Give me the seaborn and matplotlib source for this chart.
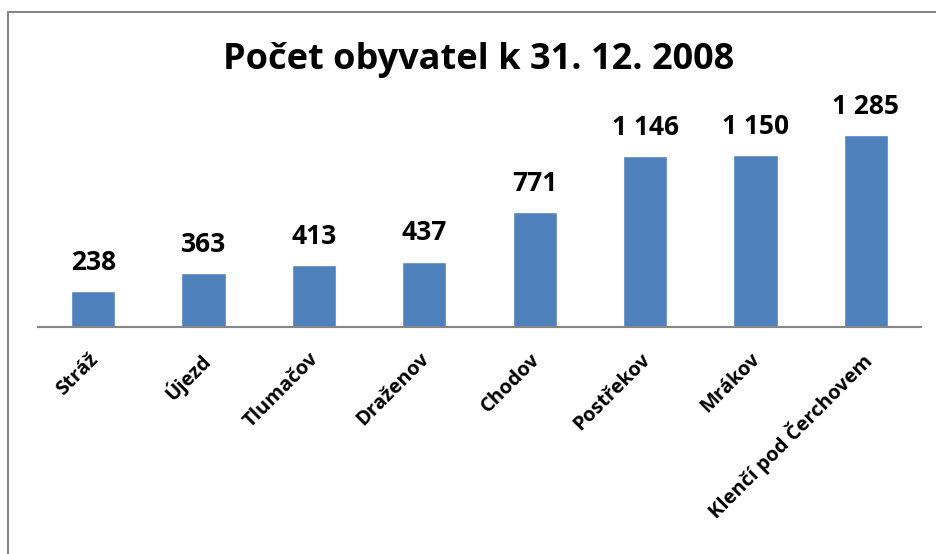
import matplotlib
matplotlib.use("Agg")
import matplotlib.pyplot as plt
import matplotlib.transforms as mtransforms
import seaborn as sns
import pandas as pd
from matplotlib.lines import Line2D

categories = ["Stráž", "Újezd", "Tlumačov", "Draženov", "Chodov", "Postřekov", "Mrákov", "Klenčí pod Čerchovem"]
values = [238, 363, 413, 437, 771, 1146, 1150, 1285]
title = "Počet obyvatel k 31. 12. 2008"

sns.set_theme(style="white")
plt.rcParams['font.family'] = ['Open Sans', 'DejaVu Sans']

df = pd.DataFrame({"obec": categories, "pocet": values})

fig = plt.figure(figsize=(9.37, 5.54), dpi=100)
ax = fig.add_axes([38/937, 1-327/554, (921-38)/937, (327-118)/554])
sns.barplot(data=df, x="obec", y="pocet", color="#4F81BD", width=0.4, ax=ax, saturation=1)
ax.set_ylim(0, 1400)
ax.set_xlim(-0.5, len(categories)-0.5)
ax.set_xlabel("")
ax.set_ylabel("")
ax.set_yticks([])
for s in ["top", "right", "left"]:
    ax.spines[s].set_visible(False)
ax.spines["bottom"].set_color("#868686")
ax.spines["bottom"].set_linewidth(1.5)
ax.tick_params(axis="x", length=0, pad=16)
ax.set_xticks(range(len(categories)))
ax.set_xticklabels(categories, rotation=45, ha="right", rotation_mode="anchor",
                   fontsize=14.5, fontweight="bold", color="black")
shift = mtransforms.ScaledTranslation(-5/100, 0, fig.dpi_scale_trans)
for lbl in ax.get_xticklabels():
    lbl.set_transform(lbl.get_transform() + shift)

for i, v in enumerate(values):
    lab = f"{v:,}".replace(",", " ")
    ax.annotate(lab, (i, v), xytext=(0, 11), textcoords="offset points",
                ha="center", va="bottom", fontsize=19, fontweight="bold", color="black")

fig.text(479/937, 1-60/554, title, ha="center", va="center", fontsize=26, fontweight="bold", color="black")

fig.add_artist(Line2D([8/937, 8/937], [0, 1-12/554], transform=fig.transFigure, color="#868686", lw=1.5))
fig.add_artist(Line2D([8/937, 1], [1-12/554, 1-12/554], transform=fig.transFigure, color="#868686", lw=1.5))

fig.savefig("out.png", dpi=100)
